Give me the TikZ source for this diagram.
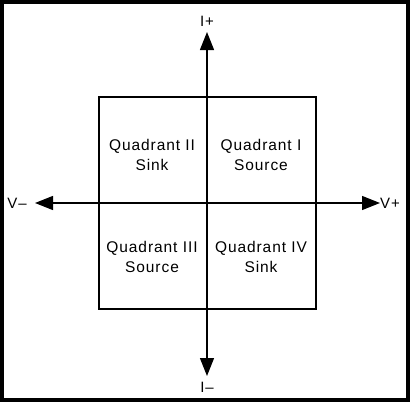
\documentclass[tikz,border=0pt]{standalone}
\usepackage{fontspec}
\setmainfont{Liberation Sans}
\newfontfamily\qfont[LetterSpace=6]{Liberation Sans}
\usetikzlibrary{arrows.meta}
\begin{document}
\begin{tikzpicture}[x=1pt,y=-1pt,
  axis/.style={line width=1.3pt,{Triangle[length=18pt,width=14pt]}-{Triangle[length=18pt,width=14pt]}},
  qlabel/.style={align=center,font=\qfont\fontsize{15.5}{20}\selectfont,inner sep=0pt},
  alabel/.style={font=\qfont\fontsize{15}{18}\selectfont,inner sep=0pt}]
\useasboundingbox (0,0) rectangle (410,402);
\fill[white] (0,0) rectangle (410,402);
\draw[line width=4pt] (2,2) rectangle (408,400);
\node[draw,line width=1.3pt,minimum width=217pt,minimum height=212pt,inner sep=0pt] (sq) at (207.5,203) {};
\coordinate (top) at (207,32);
\coordinate (bot) at (207,376);
\coordinate (lft) at (35,203);
\coordinate (rgt) at (380,203);
\draw[axis] (bot) -- (top);
\draw[axis] (lft) -- (rgt);
\node[alabel] (ip) at (207,21) {I+};
\node[alabel] (im) at (207,387) {I–};
\node[alabel] (vm) at (17,203) {V–};
\node[alabel] (vp) at (390,203) {V+};
\node[qlabel] (q2) at (152,155) {Quadrant II\\Sink};
\node[qlabel] (q1) at (261,155) {Quadrant I\\Source};
\node[qlabel] (q3) at (152,257) {Quadrant III\\Source};
\node[qlabel] (q4) at (261,257) {Quadrant IV\\Sink};
\end{tikzpicture}
\end{document}
